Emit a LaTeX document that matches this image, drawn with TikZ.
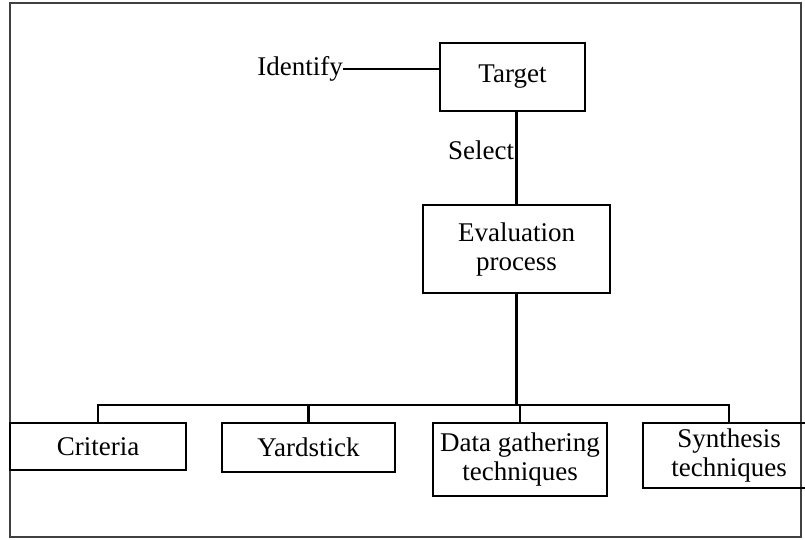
\documentclass[tikz,border=0pt]{standalone}
\usepackage{fontspec}
\setmainfont{Liberation Serif}
\begin{document}
\begin{tikzpicture}[x=1pt,y=-1pt,
  every node/.style={font=\fontsize{27}{29}\selectfont},
  box/.style={draw, line width=2.2pt, inner sep=0pt, align=center},
  link/.style={line width=2.2pt},
  tag/.style={inner sep=0pt, anchor=center}]
  \useasboundingbox (0,0) rectangle (805,539);
  \clip (0,0) rectangle (805,539);
  % outer frame
  \draw[line width=1.8pt, black!75] (10,3) rectangle (801,537);

  % boxes
  \node[box, minimum width=145pt, minimum height=68pt] (target) at (512.5,77) {Target};
  \node[box, minimum width=187pt, minimum height=88pt] (eval) at (516.5,249) {Evaluation\\process};
  \node[box, minimum width=176pt, minimum height=47pt] (crit) at (98,446.5) {Criteria};
  \node[box, minimum width=173pt, minimum height=49pt] (yard) at (308.5,447.5) {Yardstick};
  \node[box, minimum width=174pt, minimum height=73pt] (data) at (520,459.5) {Data gathering\\techniques};
  \node[box, minimum width=172pt, minimum height=65pt] (synth) at (729,455.5) {Synthesis\\techniques};

  % labels
  \node[tag, anchor=east] (identify) at (343,69) {Identify};
  \node[tag] (select) at (481,150) {Select};

  % connectors
  \draw[link] (identify.east) -- (identify.east -| target.west);
  \draw[link] (eval.north) -- (eval.north |- target.south);
  \coordinate (bar) at (516.5,405);
  \draw[link] (eval.south) -- (bar);
  \draw[link] (crit.north) -- (crit.north |- bar) -- (synth.north |- bar) -- (synth.north);
  \draw[link] (yard.north) -- (yard.north |- bar);
  \draw[link] (data.north) -- (data.north |- bar);
\end{tikzpicture}
\end{document}
